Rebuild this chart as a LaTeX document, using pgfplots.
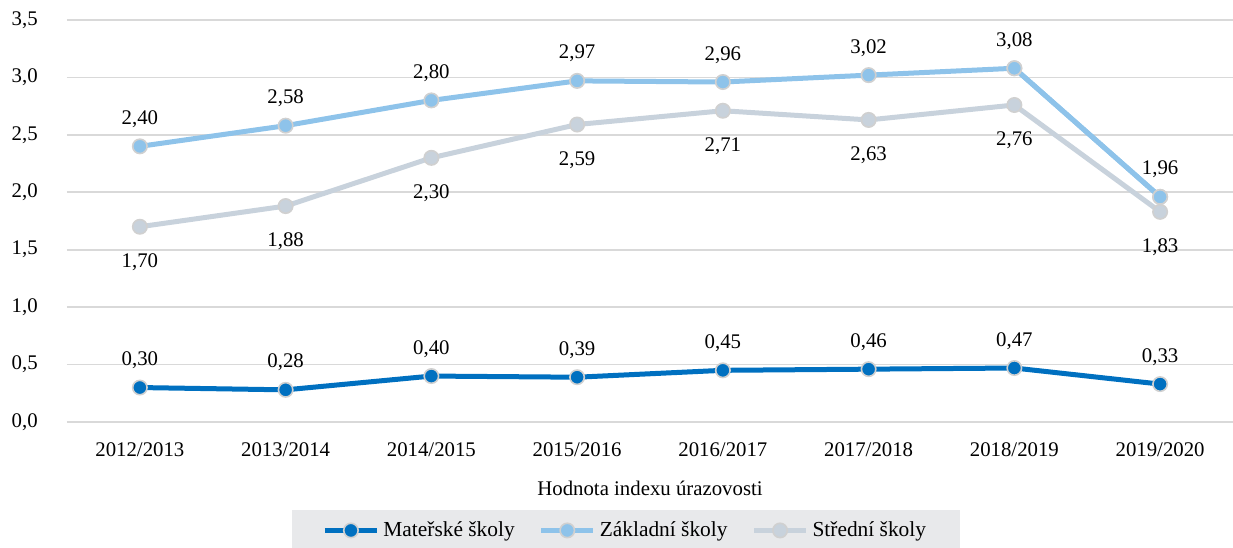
\documentclass[border=0pt]{standalone}
\usepackage{fontspec}
\setmainfont{Liberation Serif}
\usepackage{pgfplots}
\pgfplotsset{compat=1.18}
\definecolor{cMat}{RGB}{0,112,192}
\definecolor{cZak}{RGB}{142,195,234}
\definecolor{cStr}{RGB}{200,210,220}
\definecolor{cGrid}{RGB}{217,217,217}
\definecolor{cLeg}{RGB}{232,233,235}
\definecolor{cOut}{RGB}{208,208,208}
\begin{document}
\fontsize{10.4pt}{12.5pt}\selectfont
\begin{tikzpicture}
\begin{axis}[
  scale only axis,
  width=583pt, height=201pt,
  xmin=-0.5, xmax=7.5,
  ymin=0, ymax=3.5,
  ytick={0,0.5,...,3.5},
  xtick={0,1,2,3,4,5,6,7},
  xticklabels={2012/2013,2013/2014,2014/2015,2015/2016,2016/2017,2017/2018,2018/2019,2019/2020},
  axis line style={draw=none},
  tick style={draw=none},
  ymajorgrids,
  grid style={cGrid, line width=0.8pt},
  /pgf/number format/assume math mode=true,
  ticklabel style={font=\fontsize{10.4pt}{12.5pt}\selectfont},
  yticklabel style={/pgf/number format/.cd, fixed, fixed zerofill, precision=1, use comma, /tikz/.cd, xshift=-11pt},
  xticklabel style={yshift=-6.5pt},
  xlabel={Hodnota indexu úrazovosti},
  xlabel style={at={(axis description cs:0.5,0)}, anchor=center, yshift=-33pt, font=\fontsize{10.4pt}{12.5pt}\selectfont},
  nodes near coords style={/pgf/number format/.cd, fixed, fixed zerofill, precision=2, use comma, /tikz/.cd, font=\fontsize{10.4pt}{12.5pt}\selectfont, text=black},
  legend style={at={(0.193,-0.219)}, anchor=north west, fill=cLeg, draw=none, legend columns=3,
    font=\fontsize{10.7pt}{12.8pt}\selectfont,
    /tikz/every even column/.append style={column sep=10pt}, inner xsep=15pt, inner ysep=3.5pt},
  legend cell align=left,
  legend image code/.code={\draw[mark repeat=2,mark phase=2] plot coordinates {(0pt,0pt)(13pt,0pt)(26pt,0pt)};},
]
\addplot[cMat, line width=2.5pt, mark=*, mark size=3.6pt, mark options={fill=cMat, draw=cOut, line width=0.8pt},
  nodes near coords, every node near coord/.append style={anchor=south, yshift=5.5pt}]
  coordinates {(0,0.30)(1,0.28)(2,0.40)(3,0.39)(4,0.45)(5,0.46)(6,0.47)(7,0.33)};
\addplot[cZak, line width=2.5pt, mark=*, mark size=3.6pt, mark options={fill=cZak, draw=cOut, line width=0.8pt},
  nodes near coords, every node near coord/.append style={anchor=south, yshift=5.5pt}]
  coordinates {(0,2.40)(1,2.58)(2,2.80)(3,2.97)(4,2.96)(5,3.02)(6,3.08)(7,1.96)};
\addplot[cStr, line width=2.5pt, mark=*, mark size=3.6pt, mark options={fill=cStr, draw=cOut, line width=0.8pt},
  nodes near coords, every node near coord/.append style={anchor=north, yshift=-9.5pt}]
  coordinates {(0,1.70)(1,1.88)(2,2.30)(3,2.59)(4,2.71)(5,2.63)(6,2.76)(7,1.83)};
\addplot[cZak, line width=2.5pt, mark=*, mark size=3.6pt, mark options={fill=cZak, draw=cOut, line width=0.8pt}, forget plot]
  coordinates {(6,3.08)(7,1.96)};
\legend{Mateřské školy, Základní školy, Střední školy}
\end{axis}
\pgfresetboundingbox
\path (-33.5pt,-62.5pt) rectangle (583pt,211pt);
\end{tikzpicture}
\end{document}
